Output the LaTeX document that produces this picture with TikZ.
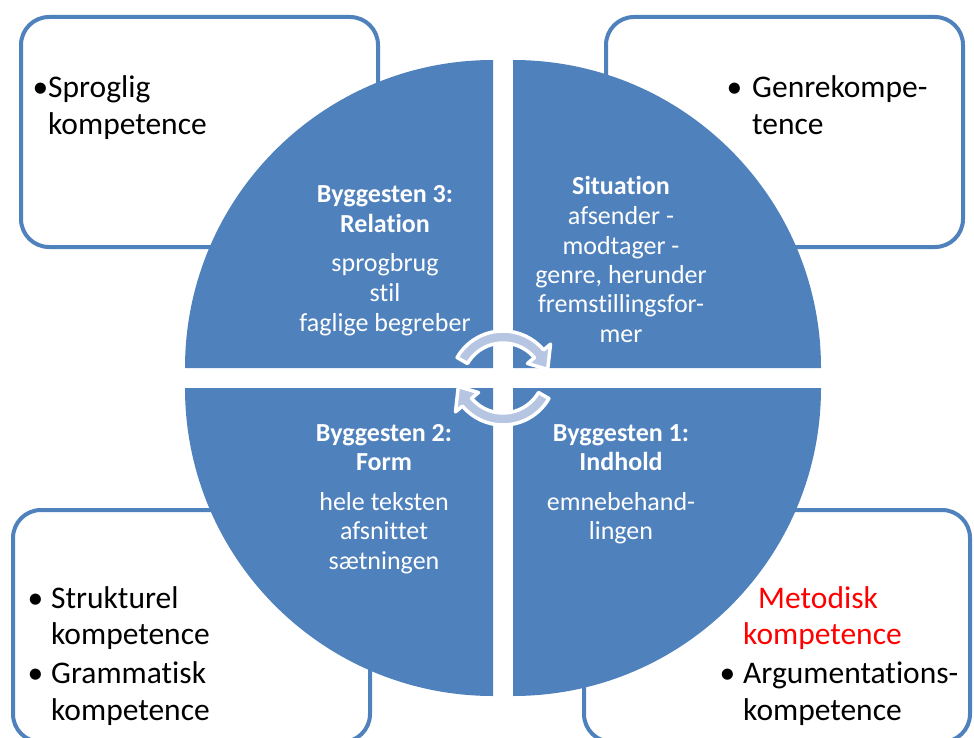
\documentclass[tikz,border=0pt]{standalone}
\usepackage{fontspec}
\setmainfont[Ligatures={NoCommon,NoRare,NoContextual}]{Carlito}
\usepackage{xcolor}
\definecolor{quadblue}{RGB}{79,129,189}
\definecolor{arrowfill}{RGB}{182,198,226}
\newcommand\boxfont{\fontsize{31.5}{36.5}\selectfont}
\newcommand\quadfont{\fontsize{26}{29.5}\selectfont}
\tikzset{
  compbox/.style={draw=quadblue, line width=4pt, fill=white, rounded corners=28pt,
    inner sep=0pt, outer sep=0pt},
  quadrant/.style={fill=quadblue},
  quadtext/.style={text=white, inner sep=0pt, anchor=base, font=\quadfont},
  boxtext/.style={text=black, inner sep=0pt, anchor=base west, font=\boxfont},
  cyclearrow/.style={fill=arrowfill, draw=white, line width=3.5pt, line join=round}
}
\begin{document}
\begin{tikzpicture}[x=1pt, y=-1pt]
  \useasboundingbox (0,0) rectangle (974,738);
  \fill[white] (0,0) rectangle (974,738);
  \clip (0,0) rectangle (974,738);

  % competence boxes behind the circle
  \node[compbox, minimum width=357pt, minimum height=230pt] (boxTL) at (199.5,132) {};
  \node[compbox, minimum width=357pt, minimum height=230pt] (boxTR) at (784.5,132) {};
  \node[compbox, minimum width=357pt, minimum height=232pt] (boxBL) at (191.5,626) {};
  \node[compbox, minimum width=386pt, minimum height=232pt] (boxBR) at (777,626) {};

  % four quadrants of the circle
  \fill[quadrant] (493,368) -- (185,368) arc[start angle=180, end angle=90, radius=308pt] -- cycle;
  \fill[quadrant] (513,368) -- (513,60) arc[start angle=90, end angle=0, radius=308pt] -- cycle;
  \fill[quadrant] (513,388) -- (821,388) arc[start angle=0, end angle=-90, radius=308pt] -- cycle;
  \fill[quadrant] (493,388) -- (493,696) arc[start angle=270, end angle=180, radius=308pt] -- cycle;

  % quadrant texts
  \node[quadtext] (q3) at (385,203) {\begin{tabular}[t]{@{}c@{}}\textbf{Byggesten 3:}\\ \textbf{Relation}\\[10pt] sprogbrug\\ stil\\ faglige begreber\end{tabular}};
  \node[quadtext] (qs) at (621,195) {\begin{tabular}[t]{@{}c@{}}\textbf{Situation}\\ afsender -\\ modtager -\\ genre, herunder\\ fremstillingsfor-\\ mer\end{tabular}};
  \node[quadtext] (q2) at (384,441) {\begin{tabular}[t]{@{}c@{}}\textbf{Byggesten 2:}\\ \textbf{Form}\\[10pt] hele teksten\\ afsnittet\\ sætningen\end{tabular}};
  \node[quadtext] (q1) at (621,441) {\begin{tabular}[t]{@{}c@{}}\textbf{Byggesten 1:}\\ \textbf{Indhold}\\[10pt] emnebehand-\\ lingen\end{tabular}};

  % box texts
  \node[boxtext] (tTL) at (48,98) {\begin{tabular}[t]{@{}l@{}}\llap{•}Sproglig\\ kompetence\end{tabular}};
  \node[boxtext] (tTR) at (752,98) {\begin{tabular}[t]{@{}l@{}}\llap{•\hspace{10pt}}Genrekompe-\\ tence\end{tabular}};
  \node[boxtext] (tBL) at (51,608) {\begin{tabular}[t]{@{}l@{}}\llap{•\hspace{8pt}}Strukturel\\ kompetence\\[2.5pt] \llap{•\hspace{8pt}}Grammatisk\\ kompetence\end{tabular}};
  \node[boxtext] (tBR) at (743,608) {\begin{tabular}[t]{@{}l@{}}\hspace{15pt}\textcolor{red}{Metodisk}\\ \textcolor{red}{kompetence}\\[2.5pt] \llap{•\hspace{8pt}}Argumentations-\\ kompetence\end{tabular}};

  % circular arrows in the centre
  \begin{scope}[shift={(503,384)}]
    \draw[cyclearrow] (150:53pt) arc[start angle=150, end angle=40, radius=53pt]
      -- (40:62pt) -- (18:47pt) -- (40:32pt) -- (40:41pt)
      arc[start angle=40, end angle=150, radius=41pt] -- cycle;
  \end{scope}
  \begin{scope}[shift={(503,372)}]
    \draw[cyclearrow] (330:53pt) arc[start angle=330, end angle=220, radius=53pt]
      -- (220:62pt) -- (198:47pt) -- (220:32pt) -- (220:41pt)
      arc[start angle=220, end angle=330, radius=41pt] -- cycle;
  \end{scope}
\end{tikzpicture}
\end{document}
